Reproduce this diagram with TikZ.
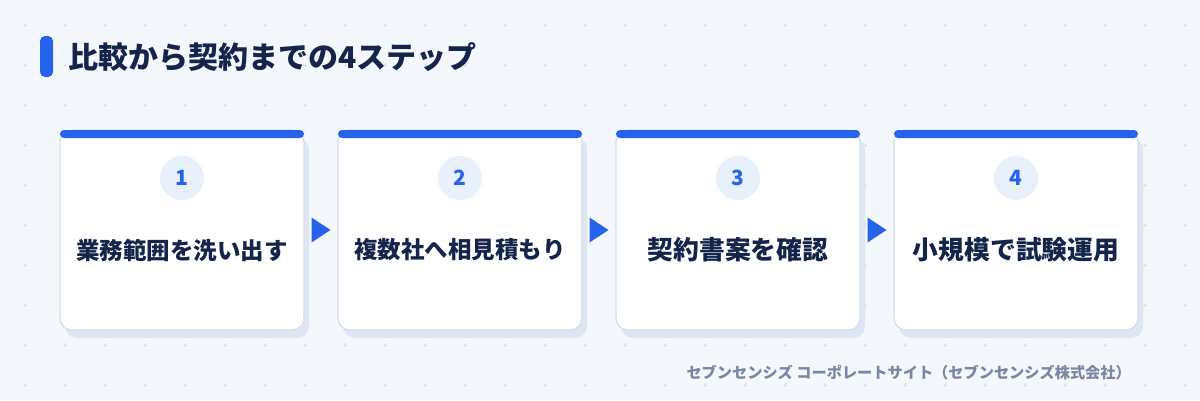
\documentclass[tikz,border=0pt]{standalone}
\usepackage{fontspec}
\setmainfont{Noto Sans CJK JP}
\usetikzlibrary{calc,shadows}
\definecolor{bgc}{HTML}{F4F7FC}
\definecolor{gridc}{HTML}{D8E0EC}
\definecolor{bluec}{HTML}{2563EB}
\definecolor{navy}{HTML}{13254A}
\definecolor{bordc}{HTML}{D3DEEC}
\definecolor{shadc}{HTML}{DDE6F2}
\definecolor{circc}{HTML}{E8F0FC}
\definecolor{footc}{HTML}{7887A2}
\tikzset{
  card/.style={draw=bordc, line width=1.2pt, fill=white, rounded corners=12pt,
    minimum width=244pt, minimum height=200pt, inner sep=0pt, outer sep=0pt,
    general shadow={shadow xshift=5pt, shadow yshift=-8pt, fill=shadc}},
  numc/.style={circle, fill=circc, minimum size=44pt, inner sep=0pt,
    text=bluec, font=\fontsize{21}{21}\selectfont\bfseries},
  steplabel/.style={text=navy, font=\fontsize{#1}{#1}\selectfont\bfseries, inner sep=0pt},
  topbar/.style={fill=bluec, rounded corners=4pt},
  arrowtri/.style={fill=bluec}
}
\begin{document}
\begin{tikzpicture}[x=1pt,y=-1pt]
\fill[bgc] (0,0) rectangle (1200,400);
\useasboundingbox (0,0) rectangle (1200,400);
% grid of plus marks
\foreach \i in {0,...,29}{
  \foreach \j in {0,...,9}{
    \draw[gridc, line width=0.8pt] ({25+40*\i-2},{25+40*\j}) -- ++(4,0)
      ({25+40*\i},{25+40*\j-2}) -- ++(0,4);
  }
}
% title
\fill[bluec, rounded corners=5pt] (40,36) rectangle (53,77);
\node[anchor=west, inner sep=0pt, text=navy, font=\fontsize{30}{30}\selectfont\bfseries] (title) at (68,57) {比較から契約までの4ステップ};
% cards
\foreach \k/\lab/\fs in {1/業務範囲を洗い出す/23.5,2/複数社へ相見積もり/23.5,3/契約書案を確認/25.8,4/小規模で試験運用/25.8}{
  \node[card] (card\k) at ({182+278*(\k-1)},230) {};
  \fill[topbar] (card\k.north west) rectangle ($(card\k.north east)+(0,8)$);
  \node[numc] (n\k) at ($(card\k.north)+(0,48)$) {\k};
  \node[steplabel=\fs] (l\k) at ($(card\k.center)+(0,20)$) {\lab};
}
% arrows
\foreach \a/\b in {1/2,2/3,3/4}{
  \coordinate (m\a) at ($(card\a.east)!0.5!(card\b.west)$);
  \fill[arrowtri] ($(m\a)+(-9.5,-12.5)$) -- ($(m\a)+(9.5,0)$) -- ($(m\a)+(-9.5,12.5)$) -- cycle;
}
% footer
\node[anchor=east, inner sep=0pt, text=footc, font=\fontsize{15.2}{15.2}\selectfont\bfseries] (foot) at (1131,373) {セブンセンシズ コーポレートサイト（セブンセンシズ株式会社）};
\end{tikzpicture}
\end{document}
